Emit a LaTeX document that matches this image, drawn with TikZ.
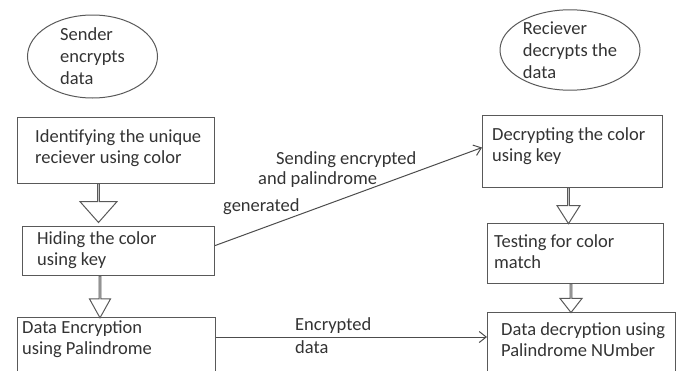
\documentclass[tikz,border=0pt]{standalone}
\usepackage{fontspec}
\setmainfont{Carlito}
\usetikzlibrary{positioning,shapes.geometric,shapes.arrows,arrows.meta}

\begin{document}
\begin{tikzpicture}[x = 1pt, y = -1pt, stage/.style = {rectangle, draw = black!65, line width = 1.1pt, anchor = north west, inner sep = 0pt}, stagetext/.style = {inner sep = 0pt, align = left, text = black!80, font = \fontsize{18.5}{21}\selectfont}, party/.style = {ellipse, draw = black!65, line width = 1pt, inner sep = 0pt, align = left, text = black!80, font = \fontsize{18.5}{22}\selectfont}, blockarrow/.style = {single arrow, draw = black!65, line width = 1pt, inner sep = 0pt, rotate = -90}, flow/.style = {draw = black!70, line width = 1pt, -{Straight Barb[length = 7pt, width = 11pt]}}, note/.style = {anchor = west, inner sep = 0pt, align = left, text = black!80, font = \fontsize{18.5}{23}\selectfont}]
\clip (0,0) rectangle (681,370);

\node[party, minimum width = 130pt, minimum height = 83pt] (sender) at (92.5,56.5) {Sender\\encrypts\\data};
\node[party, minimum width = 140pt, minimum height = 80pt] (receiver) at (570,50) {Reciever\\decrypts the\\data};

\node[stage, minimum width = 197pt, minimum height = 66pt] (identify) at (17,117) {};
\node[stage, minimum width = 192pt, minimum height = 49pt] (hide) at (22,226) {};
\node[stage, minimum width = 198pt, minimum height = 80pt] (encrypt) at (17,317) {};
\node[stage, minimum width = 180pt, minimum height = 72pt] (decolor) at (482,115) {};
\node[stage, minimum width = 176pt, minimum height = 60pt] (test) at (487,223) {};
\node[stage, minimum width = 188pt, minimum height = 80pt] (decrypt) at (487,312) {};

\node[stagetext, below right = 12pt and 18pt of identify.north west] (identify-text) {Identifying the unique\\reciever using color};
\node[stagetext, below right = 5pt and 15pt of hide.north west] (hide-text) {Hiding the color\\using key};
\node[stagetext, below right = 4pt and 5pt of encrypt.north west] (encrypt-text) {Data Encryption\\using Palindrome};
\node[stagetext, below right = 12pt and 10pt of decolor.north west] (decolor-text) {Decrypting the color\\using key};
\node[stagetext, below right = 11pt and 7pt of test.north west] (test-text) {Testing for color\\match};
\node[stagetext, below right = 10pt and 14pt of decrypt.north west] (decrypt-text) {Data decryption using\\Palindrome NUmber};

\node[blockarrow, minimum height = 39pt, minimum width = 37pt, single arrow head extend = 10pt, single arrow tip angle = 83] (down-a) at (98.5,202.5) {};
\node[blockarrow, minimum height = 42pt, minimum width = 21pt, single arrow head extend = 5pt, single arrow tip angle = 58] (down-b) at (100,296) {};
\node[blockarrow, minimum height = 36pt, minimum width = 23pt, single arrow head extend = 6.5pt, single arrow tip angle = 65] (down-c) at (568.5,205) {};
\node[blockarrow, minimum height = 29pt, minimum width = 22pt, single arrow head extend = 6pt, single arrow tip angle = 76] (down-d) at (571,297.5) {};

\draw[flow] ([yshift = 5.5pt]hide.east) -- ([yshift = 4pt]decolor.west);
\node[note] (send-a) at (276,160) {Sending encrypted};
\node[note] (send-b) at (258,180) {and palindrome};
\node[note] (send-c) at (223,207) {generated};

\draw[flow] ([yshift = -20pt]encrypt.north east) -- ([yshift = -25pt]decrypt.north west);
\node[note] (cipher) at (295,336) {Encrypted\\data};
\end{tikzpicture}
\end{document}
